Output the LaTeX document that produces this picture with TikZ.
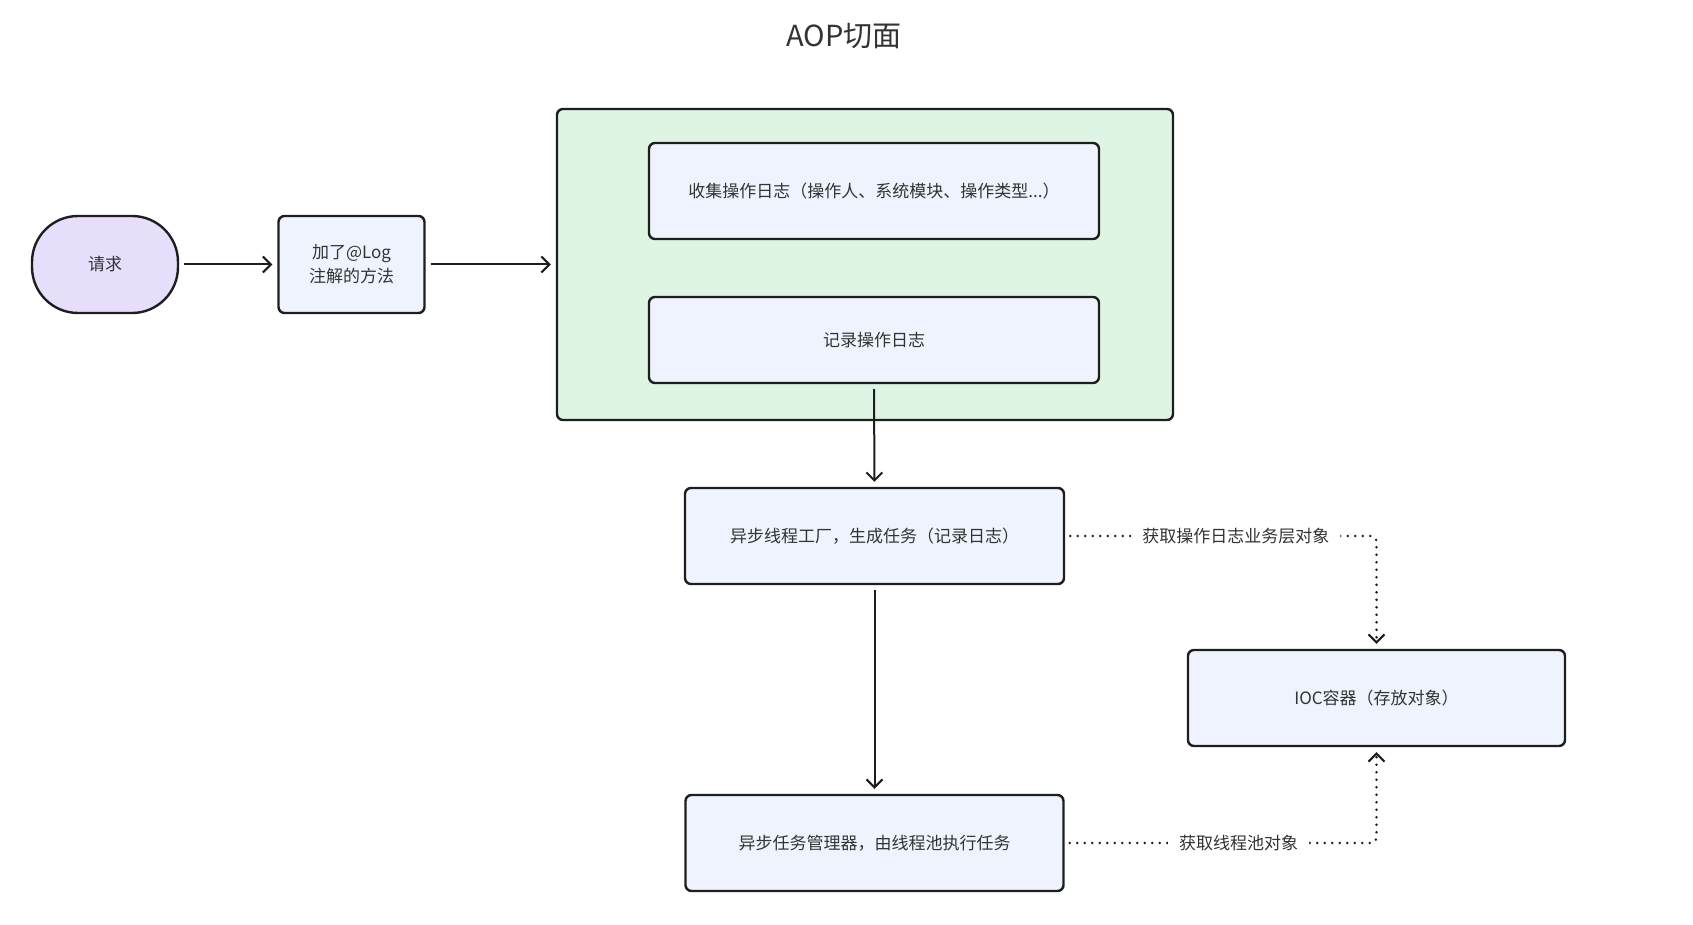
\documentclass[tikz,border=0pt]{standalone}
\usepackage{fontspec}
\setmainfont{Noto Sans CJK SC}
\usetikzlibrary{arrows.meta}
\definecolor{linec}{HTML}{1E1E1E}
\definecolor{textc}{HTML}{333333}
\definecolor{boxc}{HTML}{EEF3FD}
\definecolor{greenc}{HTML}{DFF5E4}
\definecolor{purplec}{HTML}{E7DEFB}
\begin{document}
\begin{tikzpicture}[x=0.5pt,y=-0.5pt,
  box/.style={draw=linec, fill=boxc, rounded corners=3pt, line width=1.2pt,
    inner sep=0pt, font=\fontsize{8.5}{12}\selectfont, text=textc, align=center},
  conn/.style={draw=linec, line width=1pt, -{Straight Barb[length=4pt,width=8pt,line width=1pt]},
    shorten >=2.5pt, shorten <=2.5pt},
  dotconn/.style={draw=linec, line width=1.4pt, line cap=round, dash pattern=on 0pt off 3.75pt,
    rounded corners=3pt,
    -{Straight Barb[length=4pt,width=8pt,line width=1pt,line cap=butt]},
    shorten >=2.5pt, shorten <=2.5pt},
  lbl/.style={fill=white, inner xsep=5.5pt, inner ysep=2pt, font=\fontsize{8.5}{12}\selectfont, text=textc}
]
\useasboundingbox[fill=white] (0,0) rectangle (1693,925);

\node[font=\fontsize{14.5}{17}\selectfont, text=textc] (title) at (844,36) {AOP切面};

\node[box, fill=purplec, rounded corners=23pt, minimum width=73pt, minimum height=48.5pt] (req) at (105,264.5) {请求};
\node[box, minimum width=73pt, minimum height=48.5pt] (method) at (351.5,264.5) {加了@Log\\注解的方法};

\node[box, fill=greenc, minimum width=308pt, minimum height=155.5pt] (aop) at (865,264.5) {};
\node[box, minimum width=225pt, minimum height=48pt] (collect) at (874,191) {收集操作日志（操作人、系统模块、操作类型...）};
\node[box, minimum width=225pt, minimum height=43pt] (record) at (874,340) {记录操作日志};

\node[box, minimum width=189.5pt, minimum height=48pt] (factory) at (874.5,536) {异步线程工厂，生成任务（记录日志）};
\node[box, minimum width=189pt, minimum height=48pt] (manager) at (874.5,843) {异步任务管理器，由线程池执行任务};
\node[box, minimum width=188.5pt, minimum height=48pt] (ioc) at (1376.5,698) {IOC容器（存放对象）};

\draw[conn] (req) -- (method);
\draw[conn] (method) -- (aop);
\draw[conn] (record) -- (factory);
\draw[conn] (factory) -- (manager);

\draw[dotconn] (factory.east) -| node[lbl, pos=0.274] {获取操作日志业务层对象} (ioc.north);
\draw[dotconn] (manager.east) -| node[lbl, pos=0.279] {获取线程池对象} (ioc.south);
\end{tikzpicture}
\end{document}
